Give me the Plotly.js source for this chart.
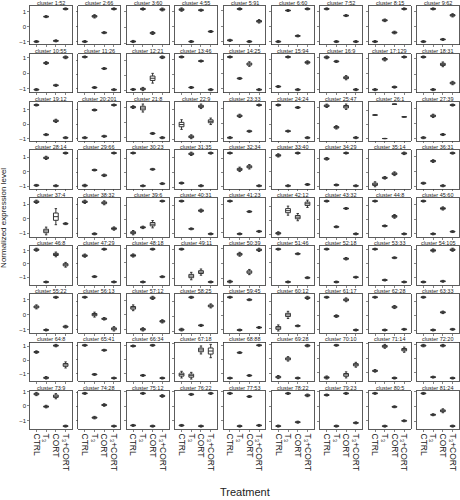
<!DOCTYPE html>
<html>
<head>
<meta charset="utf-8">
<script src="https://cdn.plot.ly/plotly-3.0.1.min.js"></script>
<style>html,body{margin:0;padding:0;background:#fff;}#chart{width:460px;height:500px;}</style>
</head>
<body>
<div id="chart"></div>
<script>
const treatments = ["CTRL", "T₃", "CORT", "T₃+CORT"];
const clusterSizes = [52,66,60,55,91,60,52,15,62, 55,26,21,46,25,94,9,129,31, 12,201,8,9,33,24,47,1,39,
  14,66,23,35,34,40,29,14,31, 4,32,6,31,23,12,32,8,60, 8,29,18,11,39,46,18,33,105,
  22,13,12,25,45,12,17,28,33, 8,41,34,18,88,28,10,14,20, 9,28,12,22,53,22,23,5,24];

const medCTRL = [-1.0,-1.0,-0.87,1.13,-0.9,-1.04,1.2,-1.0,-1.04,
  -1.06,1.22,-0.96,1.17,1.15,-0.85,1.04,-1.06,1.11,
  1.3,-0.93,1.02,0.0,-0.93,1.3,1.13,0.65,-0.93,
  -0.93,-0.93,1.4,-0.71,1.36,1.13,0.96,-0.84,-0.76,
  1.16,1.16,-0.95,1.32,1.27,-0.95,1.32,1.32,1.27,
  1.05,0.53,0.53,1.05,-1.23,0.98,1.05,1.05,-1.35,
  0.52,1.32,0.48,-0.89,1.27,-0.95,1.27,1.27,1.32,
  0.58,0.98,0.93,-1.05,-1.35,-1.28,-1.35,-0.86,0.93,
  0.82,0.93,-1.33,-1.33,0.89,-1.33,0.78,0.96,0.89];
const medT3 = [0.68,0.7,1.13,-1.0,1.13,1.09,-1.04,0.43,1.2,
  0.67,-0.91,-0.93,-0.91,-0.3,1.15,0.78,0.96,-1.02,
  -0.72,0.96,0.96,-0.83,0.52,-0.48,-0.28,-1.0,0.52,
  0.96,0.18,-0.98,1.24,0.22,-0.96,-0.87,-0.38,0.71,
  -0.84,-1.02,-0.57,-0.66,-1.07,0.7,-0.5,-0.45,-1.05,
  -1.35,-0.93,-1.35,-0.86,0.63,-1.35,-1.35,-1.21,0.93,
  -1.02,0.07,-1.0,1.25,-1.07,0.0,-0.05,-1.07,-1.0,
  -1.28,-1.09,-1.16,-1.12,0.51,0.0,1.0,0.81,-1.33,
  -0.04,-0.78,0.89,0.82,-1.38,0.84,-1.33,-1.38,-0.56];
const medCORT = [-0.95,-0.4,-0.35,1.09,-0.98,-0.65,0.74,-0.39,-0.89,
  -0.78,0.41,-0.2,0.89,0.67,-1.06,-0.26,-0.89,0.63,
  0.22,-0.83,-0.72,1.24,-0.5,1.13,1.07,1.41,-0.72,
  -0.96,-0.2,0.22,-0.89,0.4,1.29,1.36,-0.09,-0.93,
  0.14,1.09,-0.34,0.64,0.52,0.23,0.8,0.23,0.75,
  0.7,0.98,0.98,-0.58,-0.58,0.65,0.35,0.42,-1.3,
  1.16,-0.23,1.16,-0.61,1.09,-0.8,1.09,0.57,0.25,
  1.05,0.63,0.98,0.58,-1.16,-1.35,-1.16,-1.35,0.93,
  0.67,0.11,-1.38,-1.38,0.67,-1.07,0.89,0.0,-0.29];
const medT3CORT = [1.2,1.2,1.1,-0.33,0.33,1.2,-1.04,1.2,0.76,
  1.04,-1.06,1.22,-1.06,-1.06,0.78,-1.02,1.11,-0.59,
  -0.93,1.3,-1.0,0.22,1.24,-0.93,-0.96,0.52,1.24,
  1.29,1.4,-0.82,1.29,-0.93,-0.87,-0.93,1.36,1.24,
  -0.34,-0.66,1.32,-1.02,-0.89,1.2,-1.0,-1.02,-0.89,
  -0.07,-1.3,-0.98,-1.28,0.93,-1.05,-1.0,-1.35,0.98,
  -0.8,-0.95,-0.45,0.68,-0.89,1.25,-1.02,-1.02,-0.95,
  -0.35,-1.35,-1.35,0.51,1.05,0.93,-0.42,0.58,-1.4,
  -1.38,-1.38,0.71,0.89,-1.33,0.71,-1.11,-1.0,-1.33];

// half interquartile ranges
const hCTRL = [.03,.03,.03,.05,.03,.03,.03,.03,.03, .03,.03,.03,.03,.03,.03,.04,.03,.03,
  .03,.03,.04,.15,.03,.03,.05,.005,.03, .03,.04,.03,.03,.03,.05,.04,.08,.03,
  .05,.05,.07,.03,.03,.05,.03,.03,.03, .05,.05,.05,.03,.04,.03,.03,.03,.03,
  .06,.03,.09,.04,.03,.1,.03,.03,.03, .04,.03,.03,.1,.03,.05,.05,.04,.04,
  .05,.03,.03,.03,.03,.03,.03,.03,.03];
const hT3 = [.03,.05,.03,.03,.03,.03,.03,.04,.03, .04,.03,.05,.03,.03,.03,.03,.05,.03,
  .03,.03,.12,.06,.05,.03,.05,.005,.05, .05,.03,.03,.05,.07,.03,.03,.04,.04,
  .12,.03,.04,.03,.03,.15,.03,.03,.03, .03,.03,.03,.12,.06,.03,.03,.03,.05,
  .03,.08,.05,.03,.03,.12,.04,.03,.03, .04,.03,.03,.1,.03,.07,.03,.06,.03,
  .04,.04,.03,.03,.03,.03,.03,.03,.03];
const hCORT = [.03,.03,.04,.03,.03,.03,.03,.04,.03, .03,.03,.15,.03,.07,.03,.06,.03,.07,
  .05,.03,.03,.07,.03,.03,.08,.005,.03, .03,.04,.03,.03,.07,.03,.03,.06,.03,
  .25,.06,.12,.05,.03,.12,.03,.06,.05, .08,.03,.03,.1,.08,.03,.04,.03,.03,
  .03,.04,.05,.03,.03,.03,.06,.05,.04, .04,.03,.03,.12,.03,.03,.1,.03,.04,
  .08,.04,.03,.03,.03,.03,.03,.03,.06];
const hT3CORT = [.03,.03,.04,.03,.05,.03,.03,.03,.05, .04,.03,.04,.03,.03,.05,.03,.03,.05,
  .03,.03,.03,.1,.03,.03,.03,.005,.03, .03,.03,.03,.03,.03,.03,.03,.04,.03,
  .03,.05,.03,.03,.03,.12,.03,.03,.03, .08,.03,.03,.03,.05,.03,.03,.03,.05,
  .04,.07,.05,.06,.03,.05,.03,.03,.03, .1,.03,.03,.2,.03,.04,.08,.08,.03,
  .03,.03,.04,.03,.03,.04,.03,.03,.03];

const meds = [medCTRL, medT3, medCORT, medT3CORT];
const halves = [hCTRL, hT3, hCORT, hT3CORT];

const W = 429, H = 423, pw = 42, ph = 38.5, pitch = (W - pw) / 8, vpitch = (H - ph) / 8;
const font = "Liberation Sans, Arial, sans-serif";
const traces = [];
const layout = {
  width: 460, height: 500,
  margin: {l: 30, r: 1, t: 6, b: 71},
  paper_bgcolor: "#fff", plot_bgcolor: "#fff",
  showlegend: false, boxgap: 0.3,
  font: {family: font, color: "#222"},
  annotations: []
};

for (let i = 0; i < 81; i++) {
  const r = Math.floor(i / 9), c = i % 9;
  const sfx = i === 0 ? "" : String(i + 1);
  const x0 = c * pitch / W, x1 = (c * pitch + pw) / W;
  const y1 = 1 - r * vpitch / H, y0 = 1 - (r * vpitch + ph) / H;
  const m = meds.map(a => a[i]);
  const h = halves.map(a => a[i]);
  traces.push({
    type: "box", xaxis: "x" + sfx, yaxis: "y" + sfx,
    x: treatments,
    q1: m.map((v, k) => v - h[k]),
    median: m,
    q3: m.map((v, k) => v + h[k]),
    lowerfence: m.map((v, k) => v - 2.2 * h[k]),
    upperfence: m.map((v, k) => v + 2.2 * h[k]),
    fillcolor: "#fff",
    line: {color: "#333", width: 1},
    whiskerwidth: 0.5,
    hoverinfo: "skip"
  });
  layout["xaxis" + sfx] = {
    domain: [x0, x1], anchor: "y" + sfx, type: "category",
    categoryorder: "array", categoryarray: treatments,
    tickmode: "array", tickvals: treatments, ticktext: treatments,
    range: [-0.66, 3.66],
    showline: true, mirror: true, linecolor: "#333", linewidth: 0.8,
    ticks: "outside", ticklen: 2, tickwidth: 0.6, tickcolor: "#333",
    showticklabels: r === 8, tickangle: 90,
    tickfont: {size: 8.5, family: font, color: "#222"},
    showgrid: false, zeroline: false, fixedrange: true
  };
  layout["yaxis" + sfx] = {
    domain: [y0, y1], anchor: "x" + sfx, autorange: true,
    tick0: 0, dtick: 1,
    showline: true, mirror: true, linecolor: "#333", linewidth: 0.8,
    ticks: "outside", ticklen: 2, tickwidth: 0.6, tickcolor: "#333",
    showticklabels: c === 0,
    tickfont: {size: 6, family: font, color: "#222"},
    showgrid: false, zeroline: false, fixedrange: true
  };
  layout.annotations.push({
    text: "cluster " + (i + 1) + ":" + clusterSizes[i],
    xref: "paper", yref: "paper", x: (x0 + x1) / 2, y: y1,
    xanchor: "center", yanchor: "bottom", showarrow: false, yshift: -2,
    font: {size: 5.5, family: font, color: "#222"}
  });
}
layout.annotations.push({
  text: "Normalized expression level", xref: "paper", yref: "paper",
  x: -0.062, y: 0.5, xanchor: "center", yanchor: "middle", textangle: -90,
  showarrow: false, font: {size: 8, family: font, color: "#222"}
});
layout.annotations.push({
  text: "Treatment", xref: "paper", yref: "paper",
  x: 0.5, y: -0.15, xanchor: "center", yanchor: "middle",
  showarrow: false, font: {size: 11, family: font, color: "#222"}
});

Plotly.newPlot("chart", traces, layout, {displayModeBar: false, staticPlot: true});
</script>
</body>
</html>
